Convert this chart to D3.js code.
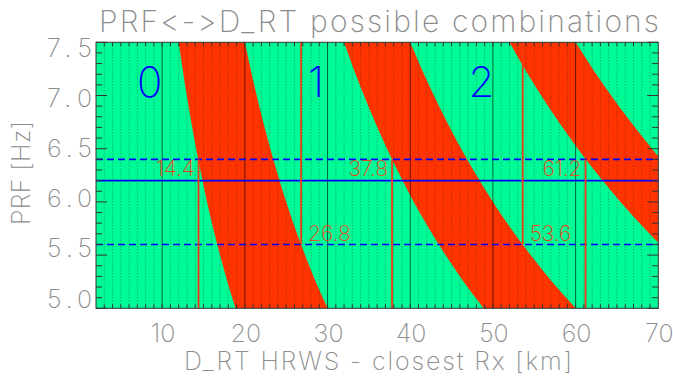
<!DOCTYPE html>
<html><head><meta charset="utf-8">
<script src="https://cdn.jsdelivr.net/npm/d3@7"></script>
<style>
  body { margin: 0; background: #fff; }
  text {
    font-family: Inter, "DejaVu Sans", sans-serif; font-weight: 200;
    font-variant-ligatures: none; font-feature-settings: "liga" 0, "calt" 0;
  }
</style></head>
<body>
<svg id="chart" width="673" height="379"></svg>
<script>
// PRF sample levels at which the eclipse band edges are tabulated
const prfLevels = [5.0, 5.25, 5.5, 5.75, 6.0, 6.25, 6.5, 6.75, 7.0, 7.25, 7.5];
// Eclipse band edges [km] for each ambiguity order (near edge / far edge)
const band1Near = [18.87, 17.89, 17.00, 16.18, 15.43, 14.75, 14.11, 13.52, 12.98, 12.47, 12.00];
const band1Far  = [30.00, 28.57, 27.27, 26.09, 25.00, 24.00, 23.08, 22.22, 21.43, 20.69, 20.00];
const band2Near = [48.87, 46.46, 44.27, 42.27, 40.43, 38.75, 37.19, 35.75, 34.41, 33.16, 32.00];
const band2Far  = [60.00, 57.14, 54.55, 52.17, 50.00, 48.00, 46.15, 44.44, 42.86, 41.38, 40.00];
const band3Near = [78.87, 75.03, 71.54, 68.35, 65.43, 62.75, 60.27, 57.97, 55.84, 53.85, 52.00];
const band3Far  = [90.00, 85.71, 81.82, 78.26, 75.00, 72.00, 69.23, 66.67, 64.29, 62.07, 60.00];

// Reference PRF levels
const prfUpper = 6.4;
const prfNominal = 6.2;
const prfLower = 5.6;
// Distances where the bands cross the reference levels [km]
const crossUpper = [14.4, 37.8, 61.2];
const crossLower = [26.8, 53.6];
// Ambiguity order labels
const zoneNames = ["0", "1", "2"];
const zoneDist = [8.5, 28.6, 48.6];
const zonePrf = 7.13;

// Axis ticks
const xTicks = [10, 20, 30, 40, 50, 60, 70];
const yTicks = [5.0, 5.5, 6.0, 6.5, 7.0, 7.5];

const GREEN = "#00fa96", RED = "#ff3400", GREY = "#8c8c8c", MARK = "#f23c14";
const pL = 96, pR = 658.3, pT = 42.3, pB = 308.3;

const svg = d3.select("#chart");
const x = d3.scaleLinear().domain([2, 70]).range([pL, pR]);
const y = d3.scaleLinear().domain([5.0, 7.5]).range([pB, pT]);
// tick labels of the PRF axis sit on a slightly tighter spacing than the ticks
const yLab = d3.scaleLinear().domain([5.0, 7.5]).range([298.5, 47.5]);

svg.append("defs").append("clipPath").attr("id", "plotClip")
  .append("rect").attr("x", pL).attr("y", pT)
  .attr("width", pR - pL).attr("height", pB - pT);

const plot = svg.append("g").attr("clip-path", "url(#plotClip)");

plot.append("rect").attr("x", pL).attr("y", pT)
  .attr("width", pR - pL).attr("height", pB - pT).attr("fill", GREEN);

const bands = [[band1Near, band1Far], [band2Near, band2Far], [band3Near, band3Far]];
const area = d3.area()
  .y((d, i) => y(prfLevels[i]))
  .x0(d => x(d[0])).x1(d => x(d[1]))
  .curve(d3.curveMonotoneY);
bands.forEach(([near, far]) => {
  plot.append("path")
    .datum(near.map((v, i) => [v, far[i]]))
    .attr("d", area)
    .attr("fill", RED);
});

// dotted 1 km grid and solid 10 km grid
const minor = d3.range(3, 70).filter(v => v % 10 !== 0);
plot.selectAll(".dot").data(minor).join("line")
  .attr("x1", d => x(d)).attr("x2", d => x(d))
  .attr("y1", pT).attr("y2", pB)
  .attr("stroke", "#000").attr("stroke-opacity", 0.35)
  .attr("stroke-width", 1).attr("stroke-dasharray", "1,2");
plot.selectAll(".major").data(xTicks.filter(v => v < 70)).join("line")
  .attr("x1", d => x(d)).attr("x2", d => x(d))
  .attr("y1", pT).attr("y2", pB)
  .attr("stroke", "#000").attr("stroke-opacity", 0.6).attr("stroke-width", 1);

// blue reference levels
[[prfUpper, "7,4"], [prfLower, "7,4"], [prfNominal, null]].forEach(([p, dash]) => {
  plot.append("line").attr("x1", pL).attr("x2", pR)
    .attr("y1", y(p)).attr("y2", y(p))
    .attr("stroke", "#0000ff").attr("stroke-width", 1.6)
    .attr("stroke-dasharray", dash);
});

// vertical markers at the crossing distances
crossUpper.forEach(v => {
  plot.append("line").attr("x1", x(v)).attr("x2", x(v))
    .attr("y1", y(prfUpper)).attr("y2", pB)
    .attr("stroke", MARK).attr("stroke-width", 1.8);
  plot.append("text").attr("x", x(v) - 4).attr("y", y(prfUpper) + 17)
    .attr("text-anchor", "end").attr("font-size", 21).attr("fill", MARK)
    .text(v.toFixed(1));
});
crossLower.forEach(v => {
  plot.append("line").attr("x1", x(v)).attr("x2", x(v))
    .attr("y1", pT).attr("y2", y(prfLower))
    .attr("stroke", MARK).attr("stroke-width", 1.8);
  plot.append("text").attr("x", x(v) + 7).attr("y", y(prfLower) - 3)
    .attr("text-anchor", "start").attr("font-size", 21).attr("fill", MARK)
    .text(v.toFixed(1));
});

// ambiguity order labels
zoneNames.forEach((t, i) => {
  plot.append("text").attr("x", x(zoneDist[i])).attr("y", y(zonePrf) + 15)
    .attr("text-anchor", "middle").attr("font-size", 42).attr("fill", "#0000ff")
    .attr("font-weight", 300).text(t);
});

// frame and ticks
const axisG = svg.append("g");
axisG.append("rect").attr("x", pL).attr("y", pT)
  .attr("width", pR - pL).attr("height", pB - pT)
  .attr("fill", "none").attr("stroke", "#333").attr("stroke-width", 1);

const yMinor = d3.range(50, 76).map(v => v / 10);
yMinor.forEach(v => {
  const len = Math.abs(v * 2 - Math.round(v * 2)) < 1e-6 ? 11 : 6;
  axisG.append("line").attr("x1", pL).attr("x2", pL + len)
    .attr("y1", y(v)).attr("y2", y(v)).attr("stroke", "#333");
  axisG.append("line").attr("x1", pR).attr("x2", pR - len)
    .attr("y1", y(v)).attr("y2", y(v)).attr("stroke", "#333");
});
d3.range(3, 70).forEach(v => {
  axisG.append("line").attr("x1", x(v)).attr("x2", x(v))
    .attr("y1", pB).attr("y2", pB - 4).attr("stroke", "#333");
  axisG.append("line").attr("x1", x(v)).attr("x2", x(v))
    .attr("y1", pT).attr("y2", pT + 4).attr("stroke", "#333");
});

// tick labels
axisG.selectAll(".xl").data(xTicks).join("text")
  .attr("x", d => x(d) + 1).attr("y", 342)
  .attr("text-anchor", "middle").attr("font-size", 25).attr("fill", GREY)
  .text(d => d);
axisG.selectAll(".yl").data(yTicks).join("text")
  .attr("x", 47).attr("y", d => yLab(d) + 9)
  .attr("text-anchor", "start").attr("font-size", 25).attr("fill", GREY)
  .attr("textLength", 45).attr("lengthAdjust", "spacing")
  .text(d => d.toFixed(1));

// titles
svg.append("text").attr("x", 379).attr("y", 32)
  .attr("text-anchor", "middle").attr("font-size", 30).attr("fill", GREY)
  .attr("textLength", 560).attr("lengthAdjust", "spacing")
  .text("PRF<->D_RT possible combinations");
svg.append("text").attr("x", 378).attr("y", 370)
  .attr("text-anchor", "middle").attr("font-size", 25).attr("fill", GREY)
  .attr("textLength", 388).attr("lengthAdjust", "spacing")
  .text("D_RT HRWS - closest Rx [km]");
svg.append("text")
  .attr("transform", "translate(30,173) rotate(-90)")
  .attr("text-anchor", "middle").attr("font-size", 25).attr("fill", GREY)
  .attr("textLength", 104).attr("lengthAdjust", "spacing")
  .text("PRF [Hz]");
</script>
</body></html>
